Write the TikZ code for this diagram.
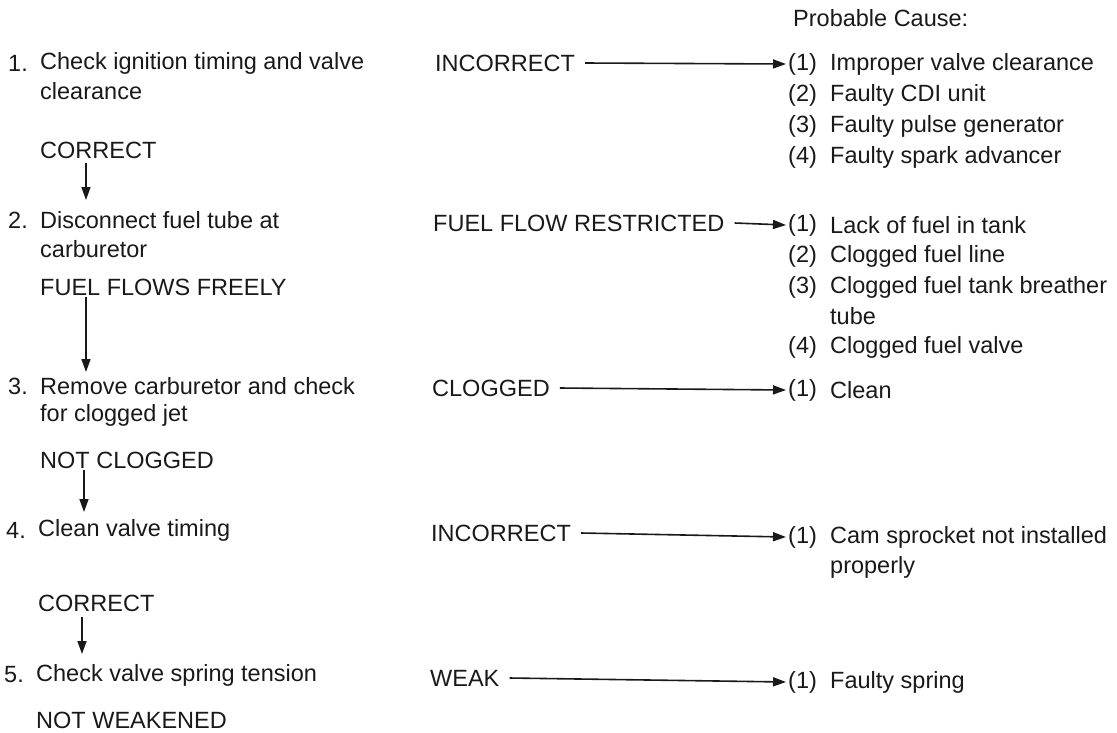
\documentclass[tikz,border=0pt]{standalone}
\usepackage{fontspec}
\setmainfont{Liberation Sans}
\usetikzlibrary{arrows.meta}
\begin{document}
\begin{tikzpicture}[x=1pt,y=-1pt,
  t/.style={anchor=west,inner sep=0pt,font=\fontsize{23.5}{28}\selectfont,text=black!90},
  ar/.style={draw=black!90,line width=1.6pt,-{Triangle[length=13pt,width=9pt]}}]
\useasboundingbox (0,0) rectangle (1117,732);
\node[t] (pc) at (793,18) {Probable Cause:};
% left column
\node[t] (s1n) at (8,63) {1.};
\node[t] (s1) at (40,63) {Check ignition timing and valve};
\node[t] (s1b) at (40,91) {clearance};
\node[t] (c1) at (40,150) {CORRECT};
\coordinate (a1s) at (86,163); \coordinate (a1e) at (86,200);
\draw[ar] (a1s) -- (a1e);
\node[t] (s2n) at (8,220) {2.};
\node[t] (s2) at (40,220) {Disconnect fuel tube at};
\node[t] (s2b) at (40,249) {carburetor};
\node[t] (c2) at (40,287) {FUEL FLOWS FREELY};
\coordinate (a2s) at (86,297); \coordinate (a2e) at (86,372);
\draw[ar] (a2s) -- (a2e);
\node[t] (s3n) at (8,386) {3.};
\node[t] (s3) at (40,386) {Remove carburetor and check};
\node[t] (s3b) at (40,415) {for clogged jet};
\node[t] (c3) at (40,460) {NOT CLOGGED};
\coordinate (a3s) at (84,470); \coordinate (a3e) at (84,512);
\draw[ar] (a3s) -- (a3e);
\node[t] (s4n) at (6,530) {4.};
\node[t] (s4) at (38,530) {Clean valve timing};
\node[t] (c4) at (38,603) {CORRECT};
\coordinate (a4s) at (82,617); \coordinate (a4e) at (82,654);
\draw[ar] (a4s) -- (a4e);
\node[t] (s5n) at (4,675) {5.};
\node[t] (s5) at (36,675) {Check valve spring tension};
\node[t] (c5) at (36,720) {NOT WEAKENED};
% middle
\node[t] (m1) at (435,63) {INCORRECT};
\node[t] (m2) at (433,223) {FUEL FLOW RESTRICTED};
\node[t] (m3) at (432,388) {CLOGGED};
\node[t] (m4) at (431,533) {INCORRECT};
\node[t] (m5) at (430,678) {WEAK};
% right
\newcommand\itm[3]{\node[t] at (788,#1) {(#2)}; \node[t] at (830,#1) {#3};}
\node[t] (r1) at (788,64) {(1)}; \node[t] at (830,64) {Improper valve clearance};
\itm{95}{2}{Faulty CDI unit}
\itm{126}{3}{Faulty pulse generator}
\itm{157}{4}{Faulty spark advancer}
\node[t] (r2) at (788,225) {(1)}; \node[t] at (830,225) {Lack of fuel in tank};
\itm{256}{2}{Clogged fuel line}
\itm{287}{3}{Clogged fuel tank breather}
\node[t] at (830,316) {tube};
\itm{347}{4}{Clogged fuel valve}
\node[t] (r3) at (788,390) {(1)}; \node[t] at (830,390) {Clean};
\node[t] (r4) at (788,537) {(1)}; \node[t] at (830,537) {Cam sprocket not installed};
\node[t] at (830,567) {properly};
\node[t] (r5) at (788,682) {(1)}; \node[t] at (830,682) {Faulty spring};
\foreach \m/\r in {m1/r1,m2/r2,m3/r3,m4/r4,m5/r5}
  \draw[ar] ([xshift=10pt]\m.east) -- ([xshift=-2pt]\r.west);
\end{tikzpicture}
\end{document}
